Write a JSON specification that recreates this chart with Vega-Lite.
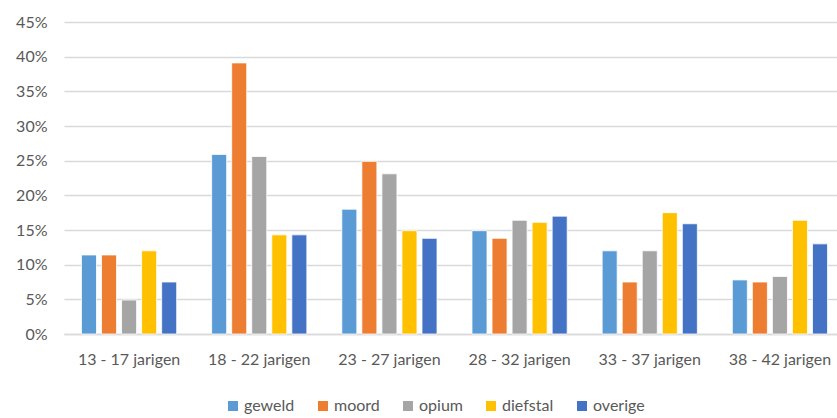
{
  "$schema": "https://vega.github.io/schema/vega-lite/v6.json",
  "autosize": {"type": "none"},
  "padding": {"left": 64, "top": 22, "right": 0, "bottom": 84},
  "width": 781,
  "height": 312,
  "background": "white",
  "data": {
    "values": [
      {"groep": "13 - 17 jarigen", "soort": "geweld", "waarde": 0.114},
      {"groep": "13 - 17 jarigen", "soort": "moord", "waarde": 0.114},
      {"groep": "13 - 17 jarigen", "soort": "opium", "waarde": 0.049},
      {"groep": "13 - 17 jarigen", "soort": "diefstal", "waarde": 0.120},
      {"groep": "13 - 17 jarigen", "soort": "overige", "waarde": 0.075},
      {"groep": "18 - 22 jarigen", "soort": "geweld", "waarde": 0.259},
      {"groep": "18 - 22 jarigen", "soort": "moord", "waarde": 0.391},
      {"groep": "18 - 22 jarigen", "soort": "opium", "waarde": 0.256},
      {"groep": "18 - 22 jarigen", "soort": "diefstal", "waarde": 0.143},
      {"groep": "18 - 22 jarigen", "soort": "overige", "waarde": 0.143},
      {"groep": "23 - 27 jarigen", "soort": "geweld", "waarde": 0.180},
      {"groep": "23 - 27 jarigen", "soort": "moord", "waarde": 0.249},
      {"groep": "23 - 27 jarigen", "soort": "opium", "waarde": 0.231},
      {"groep": "23 - 27 jarigen", "soort": "diefstal", "waarde": 0.149},
      {"groep": "23 - 27 jarigen", "soort": "overige", "waarde": 0.138},
      {"groep": "28 - 32 jarigen", "soort": "geweld", "waarde": 0.149},
      {"groep": "28 - 32 jarigen", "soort": "moord", "waarde": 0.138},
      {"groep": "28 - 32 jarigen", "soort": "opium", "waarde": 0.164},
      {"groep": "28 - 32 jarigen", "soort": "diefstal", "waarde": 0.161},
      {"groep": "28 - 32 jarigen", "soort": "overige", "waarde": 0.170},
      {"groep": "33 - 37 jarigen", "soort": "geweld", "waarde": 0.120},
      {"groep": "33 - 37 jarigen", "soort": "moord", "waarde": 0.075},
      {"groep": "33 - 37 jarigen", "soort": "opium", "waarde": 0.120},
      {"groep": "33 - 37 jarigen", "soort": "diefstal", "waarde": 0.175},
      {"groep": "33 - 37 jarigen", "soort": "overige", "waarde": 0.159},
      {"groep": "38 - 42 jarigen", "soort": "geweld", "waarde": 0.078},
      {"groep": "38 - 42 jarigen", "soort": "moord", "waarde": 0.075},
      {"groep": "38 - 42 jarigen", "soort": "opium", "waarde": 0.083},
      {"groep": "38 - 42 jarigen", "soort": "diefstal", "waarde": 0.164},
      {"groep": "38 - 42 jarigen", "soort": "overige", "waarde": 0.130}
    ]
  },
  "mark": {"type": "bar", "stroke": "white", "strokeWidth": 0.8},
  "encoding": {
    "x": {
      "field": "groep",
      "type": "nominal",
      "sort": null,
      "scale": {"paddingInner": 0.23, "paddingOuter": 0.115},
      "axis": {
        "title": null,
        "labelAngle": 0,
        "labelFont": "Lato",
        "labelFontSize": 16,
        "labelColor": "#595959",
        "labelPadding": 17,
        "ticks": false,
        "domainColor": "#d9d9d9",
        "domainWidth": 1.5,
        "grid": false
      }
    },
    "xOffset": {
      "field": "soort",
      "type": "nominal",
      "sort": ["geweld", "moord", "opium", "diefstal", "overige"],
      "scale": {"paddingInner": 0.25, "paddingOuter": 0.125}
    },
    "y": {
      "field": "waarde",
      "type": "quantitative",
      "scale": {"domain": [0, 0.45], "nice": false},
      "axis": {
        "title": null,
        "format": ".0%",
        "values": [0, 0.05, 0.1, 0.15, 0.2, 0.25, 0.3, 0.35, 0.4, 0.45],
        "labelFont": "Lato",
        "labelFontSize": 16,
        "labelColor": "#595959",
        "labelPadding": 17,
        "ticks": false,
        "domain": false,
        "gridColor": "#d9d9d9",
        "gridWidth": 1.5
      }
    },
    "color": {
      "field": "soort",
      "type": "nominal",
      "sort": ["geweld", "moord", "opium", "diefstal", "overige"],
      "scale": {
        "domain": ["geweld", "moord", "opium", "diefstal", "overige"],
        "range": ["#5B9BD5", "#ED7D31", "#A5A5A5", "#FFC000", "#4472C4"]
      },
      "legend": {
        "title": null,
        "orient": "none",
        "direction": "horizontal",
        "legendX": 161,
        "legendY": 376,
        "symbolType": "square",
        "symbolSize": 100,
        "symbolStrokeWidth": 0,
        "labelFont": "Lato",
        "labelFontSize": 16,
        "labelColor": "#595959",
        "labelOffset": 3,
        "columnPadding": 20
      }
    }
  },
  "config": {"view": {"stroke": null}}
}
